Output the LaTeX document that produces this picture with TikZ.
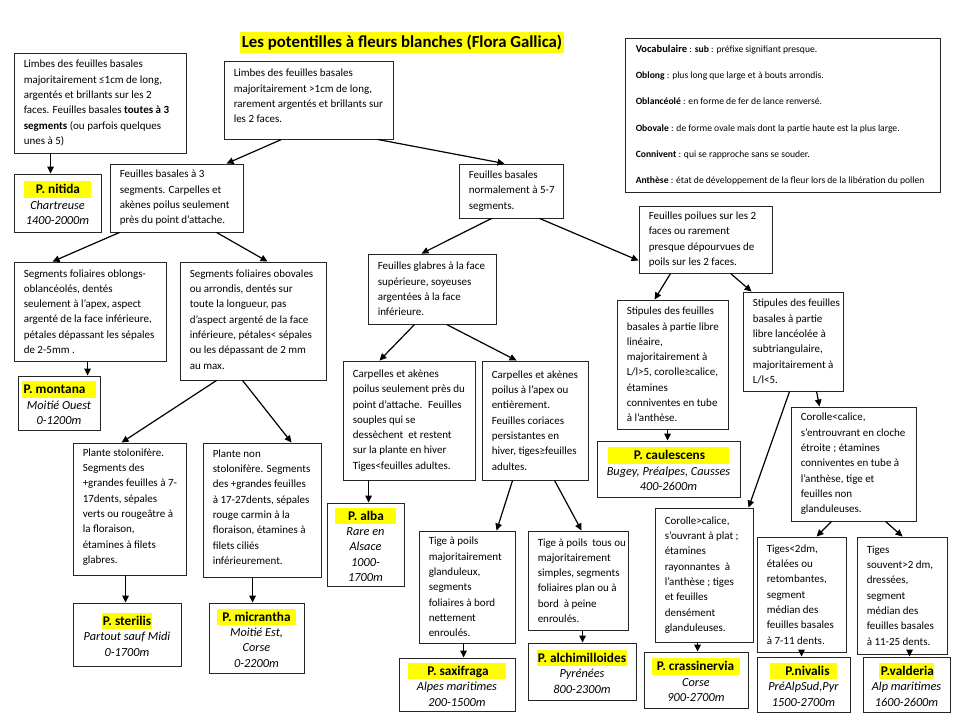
\documentclass[tikz,border=0pt]{standalone}
\usepackage{fontspec}
\setmainfont{Carlito}
\usetikzlibrary{arrows.meta}
\definecolor{hly}{RGB}{255,255,0}
\newcommand\hl[3]{{\setlength{\fboxsep}{0pt}\colorbox{hly}{\fontsize{13.3}{15.3}\selectfont\rule[-4pt]{0pt}{16.5pt}\hspace*{#1pt}\textbf{#3}\hspace*{#2pt}}}}
\newcommand\qbox[7][]{%
  \node[qb, minimum width=#5, minimum height=#6] (#2) at (#3,#4) {};
  \node[txt, anchor=west, #1] (#2t) at ([xshift=10pt]#2.west) {#7};}
\begin{document}
\begin{tikzpicture}[x=1pt,y=-1pt,
  qb/.style={draw=black!85, line width=0.9pt, fill=white, inner sep=0pt},
  txt/.style={align=left, inner sep=0pt, font=\fontsize{11}{15.3}\selectfont},
  leaf/.style={draw=black!85, line width=0.9pt, fill=white, inner sep=0pt, align=center, font=\fontsize{12.3}{15.3}\selectfont},
  arr/.style={-{Triangle[length=7pt,width=6.5pt]}, line width=1.2pt}]
\fill[white] (0,0) rectangle (956,717);
\useasboundingbox (0,0) rectangle (956,717);

% title
\node[fill=hly, inner xsep=2pt, inner ysep=0pt, minimum height=21, font=\fontsize{16.8}{19}\selectfont\bfseries] (title) at (402,42.5) {Les potentilles à fleurs blanches (Flora Gallica)};

% vocabulary
\node[qb, minimum width=315, minimum height=154] (vocab) at (782.5,115) {};
\node[anchor=west, align=left, inner sep=0pt, font=\fontsize{9.6}{26.2}\selectfont] (vocabt) at ([xshift=11pt]vocab.west) {{\fontsize{10.5}{12}\selectfont\textbf{Vocabulaire}} : \textbf{sub} : préfixe signifiant presque.\\
\textbf{Oblong} : plus long que large et à bouts arrondis.\\
\textbf{Oblancéolé} : en forme de fer de lance renversé.\\
\textbf{Obovale} : de forme ovale mais dont la partie haute est la plus large.\\
\textbf{Connivent} : qui se rapproche sans se souder.\\
\textbf{Anthèse} : état de développement de la fleur lors de la libération du pollen};

% question boxes
\qbox{q1}{100}{103}{172}{100}{Limbes des feuilles basales\\majoritairement ≤1cm de long,\\argentés et brillants sur les 2\\faces. Feuilles basales \textbf{toutes à 3}\\\textbf{segments} (ou parfois quelques\\unes à 5)}
\qbox[yshift=4pt]{root}{308.5}{100}{169}{78}{Limbes des feuilles basales\\majoritairement >1cm de long,\\rarement argentés et brillants sur\\les 2 faces.}
\qbox{seg3}{176.5}{198}{133}{68}{Feuilles basales à 3\\segments. Carpelles et\\akènes poilus seulement\\près du point d’attache.}
\qbox{seg57}{511}{191}{104}{54}{Feuilles basales\\normalement à 5-7\\segments.}
\qbox{oblong}{90}{311.5}{152}{99}{Segments foliaires oblongs-\\oblancéolés, dentés\\seulement à l’apex, aspect\\argenté de la face inférieure,\\pétales dépassant les sépales\\de 2-5mm .}
\qbox[yshift=1.5pt]{obov}{253}{321}{146}{118}{Segments foliaires obovales\\ou arrondis, dentés sur\\toute la longueur, pas\\d’aspect argenté de la face\\inférieure, pétales< sépales\\ou les dépassant de 2 mm\\au max.}
\qbox[yshift=2pt]{stolo}{129.5}{509}{113}{132}{Plante stolonifère.\\Segments des\\+grandes feuilles à 7-\\17dents, sépales\\verts ou rougeâtre à\\la floraison,\\étamines à filets\\glabres.}
\qbox[yshift=3pt]{nonstolo}{262}{510}{118}{134}{Plante non\\stolonifère. Segments\\des +grandes feuilles\\à 17-27dents, sépales\\rouge carmin à la\\floraison, étamines à\\filets ciliés\\inférieurement.}
\qbox{glabres}{432}{289}{128}{70}{Feuilles glabres à la face\\supérieure, soyeuses\\argentées à la face\\inférieure.}
\qbox{poilues}{705.5}{239.5}{133}{67}{Feuilles poilues sur les 2\\faces ou rarement\\presque dépourvues de\\poils sur les 2 faces.}
\qbox{carp1}{409}{420.5}{132}{119}{Carpelles et akènes\\poilus seulement près du\\point d’attache.~ Feuilles\\souples qui se\\dessèchent~ et restent\\sur la plante en hiver\\Tiges<feuilles adultes.}
\qbox{carp2}{535}{420.5}{106}{119}{Carpelles et akènes\\poilus à l’apex ou\\entièrement.\\Feuilles coriaces\\persistantes en\\hiver, tiges≥feuilles\\adultes.}
\qbox{tigeg}{467}{587}{96}{112}{Tige à poils\\majoritairement\\glanduleux,\\segments\\foliaires à bord\\nettement\\enroulés.}
\qbox{tiges}{578}{580.5}{100}{99}{Tige à poils~ tous ou\\majoritairement\\simples, segments\\foliaires plan ou à\\bord~ à peine\\enroulés.}
\qbox{stlin}{672.5}{364.5}{111}{129}{Stipules des feuilles\\basales à partie libre\\linéaire,\\majoritairement à\\L/l>5, corolle≥calice,\\étamines\\conniventes en tube\\à l’anthèse.}
\qbox{stlan}{793}{341.5}{100}{99}{Stipules des feuilles\\basales à partie\\libre lancéolée à\\subtriangulaire,\\majoritairement à\\L/l<5.}
\qbox{corinf}{853.5}{464}{125}{114}{Corolle<calice,\\s’entrouvrant en cloche\\étroite ; étamines\\conniventes en tube à\\l’anthèse, tige et\\feuilles non\\glanduleuses.}
\qbox{corsup}{704}{575}{98}{134}{Corolle>calice,\\s’ouvrant à plat ;\\étamines\\rayonnantes~ à\\l’anthèse ; tiges\\et feuilles\\densément\\glanduleuses.}
\qbox{tigi}{801.5}{594.5}{89}{115}{Tiges<2dm,\\étalées ou\\retombantes,\\segment\\médian des\\feuilles basales\\à 7-11 dents.}
\qbox{tigs}{902}{595.5}{90}{117}{Tiges\\souvent>2 dm,\\dressées,\\segment\\médian des\\feuilles basales\\à 11-25 dents.}

% leaf boxes
\node[leaf, minimum width=87, minimum height=58] (nitida) at (57.5,203) {\hl{12}{11}{P. nitida}\\\textit{Chartreuse}\\\textit{1400-2000m}};
\node[leaf, minimum width=82, minimum height=54] (montana) at (59,403) {\hl{2}{11}{P. montana}\\\textit{Moitié Ouest}\\\textit{0-1200m}};
\node[leaf, minimum width=108, minimum height=63] (sterilis) at (127,634.5) {\hl{1}{1}{P. sterilis}\\\textit{Partout sauf Midi}\\\textit{0-1700m}};
\node[leaf, minimum width=95, minimum height=70] (micrantha) at (256.5,638) {\hl{5}{5}{P. micrantha}\\\textit{Moitié Est,}\\\textit{Corse}\\\textit{0-2200m}};
\node[leaf, minimum width=77, minimum height=83] (alba) at (365.5,544.5) {\hl{13}{12}{P. alba}\\\textit{Rare en}\\\textit{Alsace}\\\textit{1000-}\\\textit{1700m}};
\node[leaf, minimum width=116, minimum height=53] (saxi) at (457,684.5) {\hl{19}{17}{P. saxifraga}\\\textit{Alpes maritimes}\\\textit{200-1500m}};
\node[leaf, minimum width=108, minimum height=57] (alchi) at (582,671.5) {\hl{1}{1}{P. alchimilloides}\\\textit{Pyrénées}\\\textit{800-2300m}};
\node[leaf, minimum width=143, minimum height=56] (caul) at (668.5,469) {\hl{26}{24}{P. caulescens}\\\textit{Bugey, Préalpes, Causses}\\\textit{400-2600m}};
\node[leaf, minimum width=104, minimum height=56] (crass) at (696,680) {\hl{5}{6}{P. crassinervia}\\\textit{Corse}\\\textit{900-2700m}};
\node[leaf, minimum width=93, minimum height=55] (nival) at (803.5,684.5) {\hl{15}{7}{P.nivalis}\\\textit{PréAlpSud,Pyr}\\\textit{1500-2700m}};
\node[leaf, minimum width=87, minimum height=55] (vald) at (906.5,684.5) {\hl{2}{0}{P.valderia}\\\textit{Alp maritimes}\\\textit{1600-2600m}};

% connectors
\draw[arr] ([xshift=37pt]q1.south west) -- ([xshift=37pt]nitida.north west);
\draw[arr] ([xshift=58pt]root.south west) -- ([xshift=117pt]seg3.north west);
\draw[arr] ([xshift=154pt]root.south west) -- ([xshift=46pt]seg57.north west);
\draw[arr] ([xshift=10pt]seg3.south west) -- ([xshift=39pt]oblong.north west);
\draw[arr] ([xshift=107pt]seg3.south west) -- ([xshift=88pt]obov.north west);
\draw[arr] ([xshift=74pt]oblong.south west) -- ([xshift=70pt]montana.north west);
\draw[arr] ([xshift=37pt]obov.south west) -- ([xshift=49pt]stolo.north west);
\draw[arr] ([xshift=63pt]obov.south west) -- ([xshift=89pt]nonstolo.north west);
\draw[arr] ([xshift=53pt]stolo.south west) -- ([xshift=53pt]sterilis.north west);
\draw[arr] ([xshift=50pt]nonstolo.south west) -- ([xshift=44pt]micrantha.north west);
\draw[arr] ([xshift=33pt]seg57.south west) -- ([xshift=54pt]glabres.north west);
\draw[arr] ([xshift=81pt]seg57.south west) -- ([yshift=-55pt]poilues.north west);
\draw[arr] ([xshift=47pt]glabres.south west) -- ([xshift=37pt]carp1.north west);
\draw[arr] ([xshift=79pt]glabres.south west) -- ([xshift=35pt]carp2.north west);
\draw[arr] ([xshift=26pt]carp1.south west) -- ([xshift=42pt]alba.north west);
\draw[arr] ([xshift=31pt]carp2.south west) -- ([xshift=78pt]tigeg.north west);
\draw[arr] ([xshift=73pt]carp2.south west) -- ([xshift=54pt]tiges.north west);
\draw[arr] ([xshift=45pt]tigeg.south west) -- ([xshift=65pt]saxi.north west);
\draw[arr] ([xshift=55pt]tiges.south west) -- ([xshift=55pt]alchi.north west);
\draw[arr] ([xshift=32pt]poilues.south west) -- ([xshift=38pt]stlin.north west);
\draw[arr] ([xshift=92pt]poilues.south west) -- ([xshift=9pt]stlan.north west);
\draw[arr] ([xshift=51pt]stlin.south west) -- ([xshift=71pt]caul.north west);
\draw[arr] ([xshift=74pt]stlan.south west) -- ([xshift=29pt]corinf.north west);
\draw[arr] ([xshift=47pt]stlan.south west) -- ([xshift=94pt]corsup.north west);
\draw[arr] ([xshift=41pt]corinf.south west) -- ([xshift=60pt]tigi.north west);
\draw[arr] ([xshift=95pt]corinf.south west) -- ([xshift=46pt]tigs.north west);
\draw[arr] ([xshift=43pt]corsup.south west) -- ([xshift=54pt]crass.north west);
\draw[arr] ([xshift=45pt]tigi.south west) -- ([xshift=45pt]nival.north west);
\draw[arr] ([xshift=53pt]tigs.south west) -- ([xshift=47pt]vald.north west);
\end{tikzpicture}
\end{document}
